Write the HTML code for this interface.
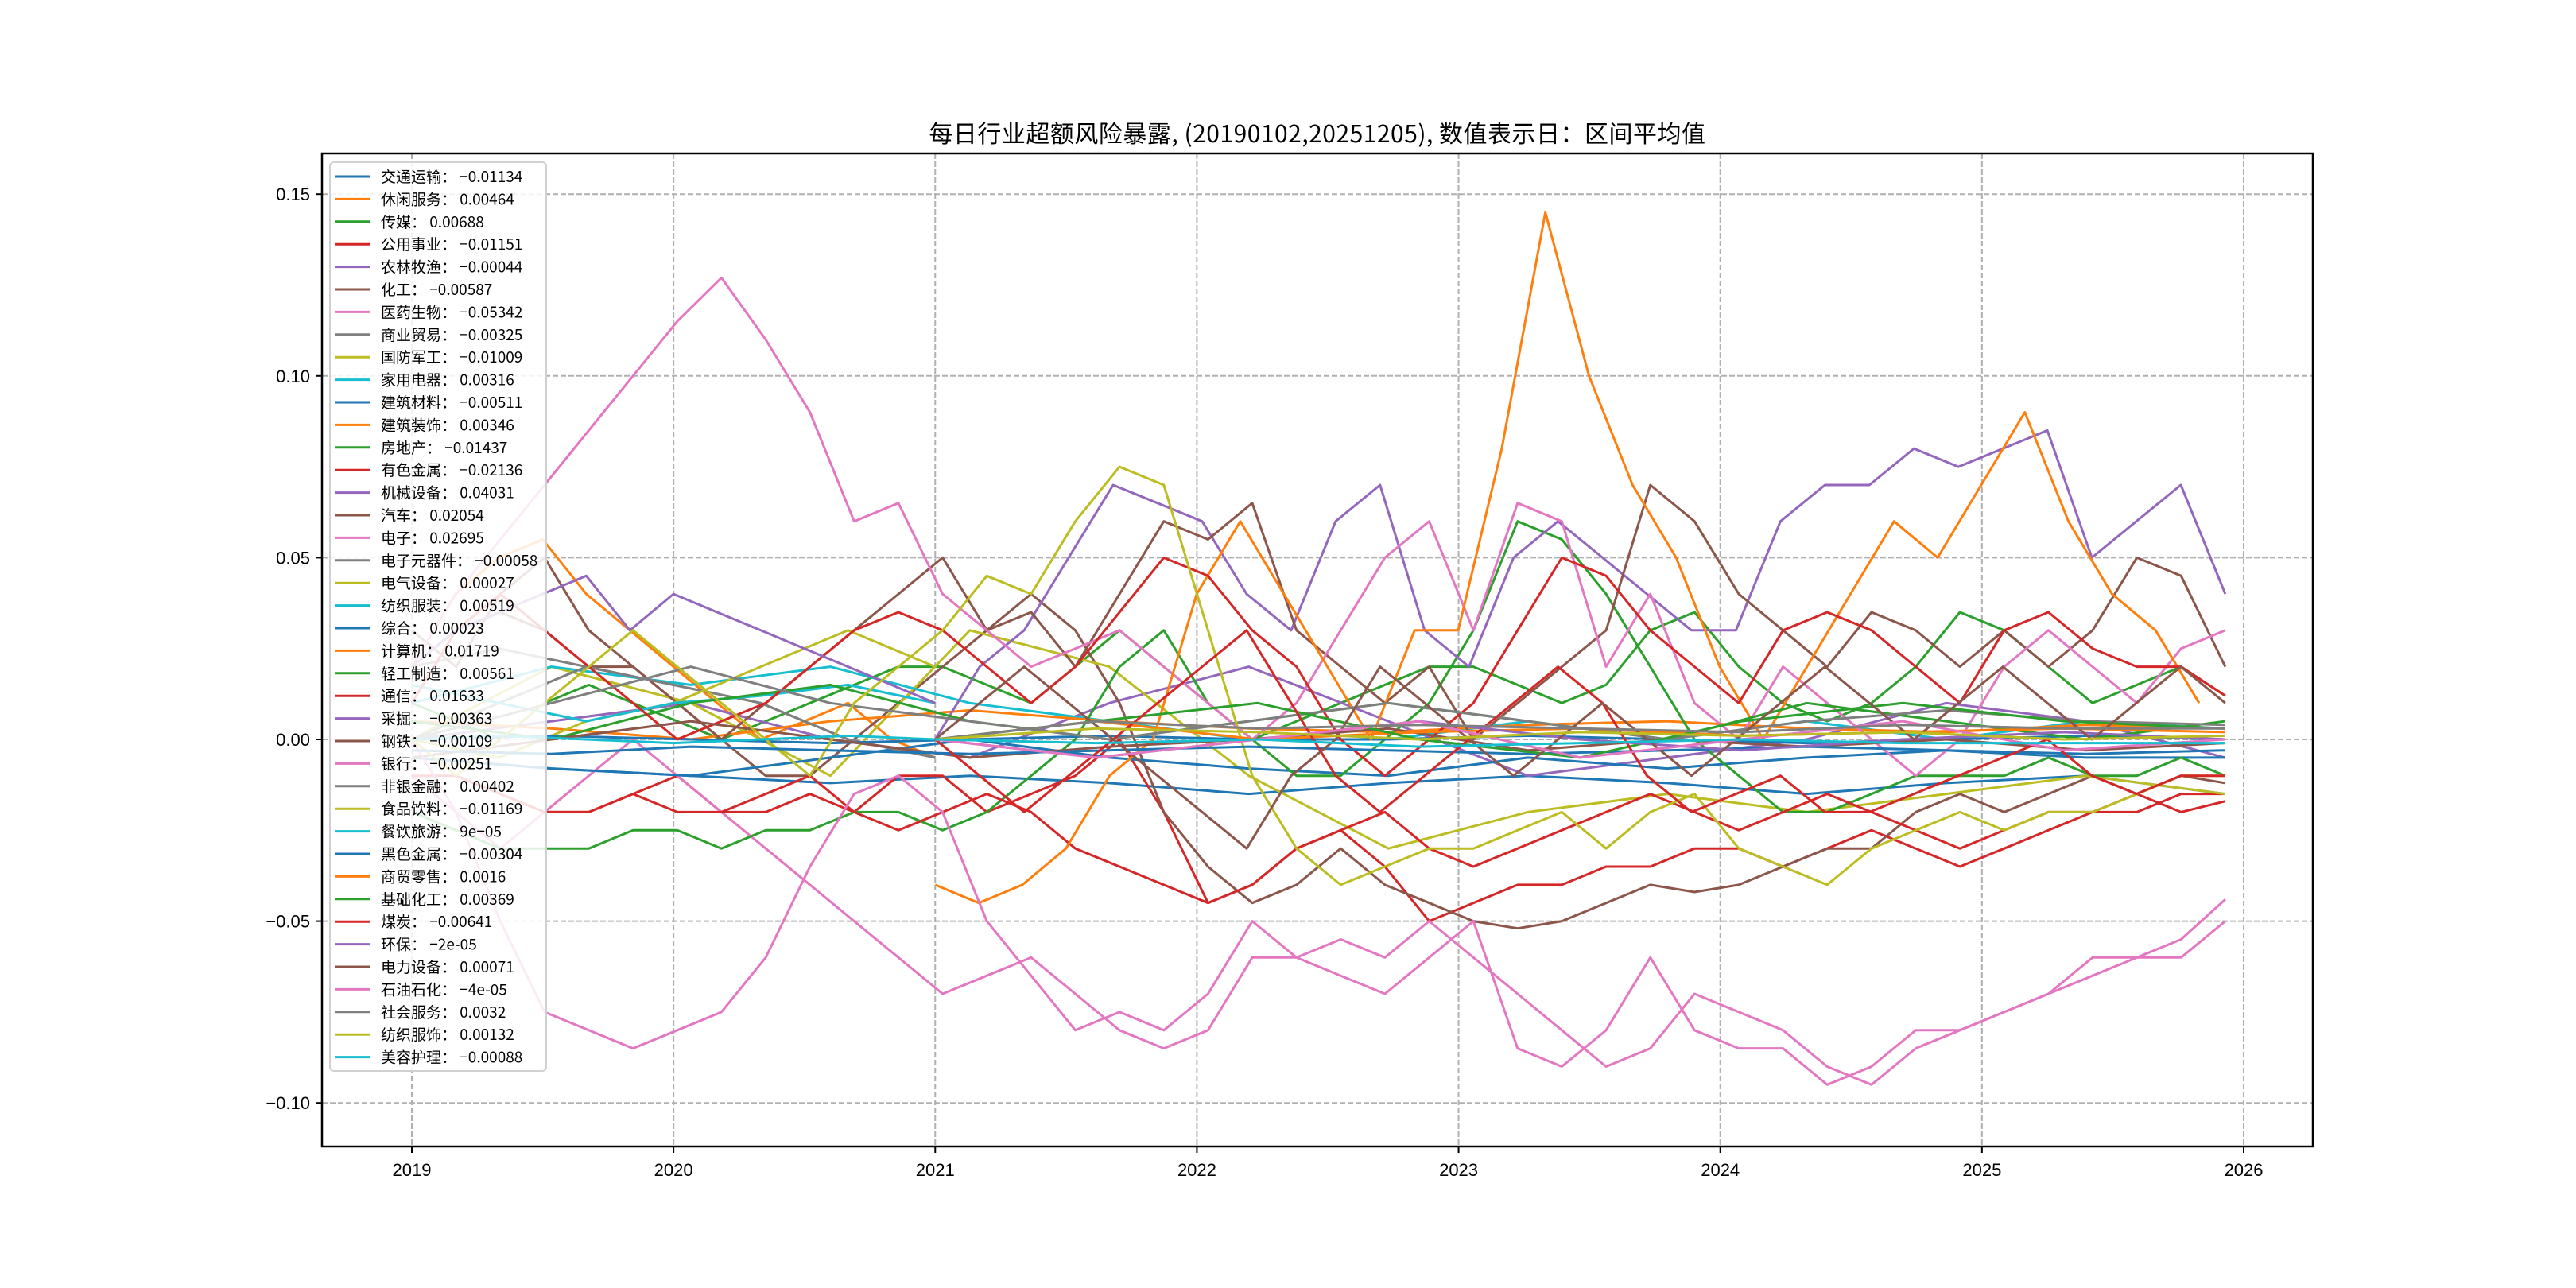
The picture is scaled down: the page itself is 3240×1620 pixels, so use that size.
<!DOCTYPE html>
<html><head><meta charset="utf-8">
<style>
html,body{margin:0;padding:0;background:#fff;}
svg{display:block;font-family:"Liberation Sans","Noto Sans CJK SC",sans-serif;}
</style></head>
<body>
<svg id="chart" width="3240" height="1620" viewBox="0 0 3240 1620" xmlns="http://www.w3.org/2000/svg">
<rect x="0" y="0" width="3240" height="1620" fill="#fff"/>
<text x="1657" y="179" font-size="30" text-anchor="middle" font-family="'Noto Sans CJK SC',sans-serif" letter-spacing="0.5">每日行业超额风险暴露, (20190102,20251205),  数值表示日：区间平均值</text>
<defs><clipPath id="plotclip"><rect x="405" y="193" width="2504" height="1249"/></clipPath></defs>
<g id="grid"></g>
<g id="series" clip-path="url(#plotclip)"></g>
<rect x="405" y="193" width="2504" height="1249" fill="none" stroke="#000" stroke-width="2.5"/>
<g id="axes"></g>
<g id="legend"></g>
</svg>
<script>
const seriesNames=["交通运输","休闲服务","传媒","公用事业","农林牧渔","化工","医药生物","商业贸易","国防军工","家用电器","建筑材料","建筑装饰","房地产","有色金属","机械设备","汽车","电子","电子元器件","电气设备","纺织服装","综合","计算机","轻工制造","通信","采掘","钢铁","银行","非银金融","食品饮料","餐饮旅游","黑色金属","商贸零售","基础化工","煤炭","环保","电力设备","石油石化","社会服务","纺织服饰","美容护理"];
const seriesMeans=["-0.01134","0.00464","0.00688","-0.01151","-0.00044","-0.00587","-0.05342","-0.00325","-0.01009","0.00316","-0.00511","0.00346","-0.01437","-0.02136","0.04031","0.02054","0.02695","-0.00058","0.00027","0.00519","0.00023","0.01719","0.00561","0.01633","-0.00363","-0.00109","-0.00251","0.00402","-0.01169","9e-05","-0.00304","0.0016","0.00369","-0.00641","-2e-05","0.00071","-4e-05","0.0032","0.00132","-0.00088"];
const seriesStart=[2019.0,2019.0,2019.0,2019.0,2019.0,2019.0,2019.0,2019.0,2019.0,2019.0,2019.0,2019.0,2019.0,2019.0,2021.0,2019.0,2019.0,2019.0,2019.0,2019.0,2019.0,2021.0,2019.0,2019.0,2019.0,2019.0,2019.0,2019.0,2019.0,2019.0,2019.0,2021.0,2021.0,2021.0,2021.0,2021.0,2021.0,2021.0,2021.0,2021.0];
const seriesEnd=[2025.93,2021.0,2025.93,2025.93,2025.93,2025.93,2025.93,2021.0,2025.93,2025.93,2025.93,2025.93,2025.93,2025.93,2025.93,2025.93,2025.93,2021.0,2021.0,2021.0,2025.93,2025.83,2025.93,2025.93,2021.0,2025.93,2025.93,2025.93,2025.93,2021.0,2025.93,2025.93,2025.93,2025.93,2025.93,2025.93,2025.93,2025.93,2025.93,2025.93];
const v0=[-0.005,-0.008,-0.01,-0.012,-0.01,-0.012,-0.015,-0.012,-0.01,-0.012,-0.015,-0.012,-0.01,-0.015];
const v1=[0.02,0.04,0.05,0.055,0.04,0.03,0.02,0.01,0.0,0.005,0.01,0.0,-0.005];
const v2=[0.01,0.005,0.0,0.01,0.015,0.01,0.005,0.0,0.005,0.01,0.015,0.02,0.02,0.015,0.01,0.02,0.03,0.02,0.01,0.0,0.005,0.01,0.015,0.02,0.02,0.015,0.01,0.015,0.03,0.035,0.02,0.01,0.005,0.01,0.02,0.035,0.03,0.02,0.01,0.015,0.02,0.012];
const v3=[0.0,-0.01,-0.015,-0.02,-0.02,-0.015,-0.01,-0.02,-0.02,-0.015,-0.02,-0.01,-0.01,-0.02,-0.015,-0.01,0.0,-0.02,-0.045,-0.04,-0.03,-0.025,-0.035,-0.05,-0.045,-0.04,-0.04,-0.035,-0.035,-0.03,-0.03,-0.035,-0.03,-0.025,-0.03,-0.035,-0.03,-0.025,-0.02,-0.02,-0.015,-0.015];
const v4=[0.0,0.005,0.01,0.0,-0.005,0.01,0.02,0.005,-0.01,-0.005,0.0,0.01,0.005,-0.005];
const v5=[0.02,0.03,0.035,0.03,0.02,0.02,0.01,0.0,-0.01,-0.01,0.0,0.01,0.02,0.03,0.04,0.03,0.01,-0.02,-0.035,-0.045,-0.04,-0.03,-0.04,-0.045,-0.05,-0.052,-0.05,-0.045,-0.04,-0.042,-0.04,-0.035,-0.03,-0.03,-0.02,-0.015,-0.02,-0.015,-0.01,-0.015,-0.01,-0.012];
const v6=[-0.01,-0.02,-0.03,-0.02,-0.01,0.0,-0.01,-0.02,-0.03,-0.04,-0.05,-0.06,-0.07,-0.065,-0.06,-0.07,-0.08,-0.085,-0.08,-0.06,-0.06,-0.055,-0.06,-0.05,-0.06,-0.07,-0.08,-0.09,-0.085,-0.07,-0.075,-0.08,-0.09,-0.095,-0.085,-0.08,-0.075,-0.07,-0.065,-0.06,-0.06,-0.05];
const v7=[0.02,0.025,0.02,0.015,0.01,0.0,-0.005];
const v8=[0.0,0.02,0.01,-0.01,0.03,0.02,-0.01,-0.03,-0.02,-0.015,-0.02,-0.015,-0.01,-0.015];
const v9=[0.01,0.02,0.015,0.02,0.01,0.005,0.0,0.0,0.005,0.0,0.005,0.0,0.005,0.003];
const v10=[-0.005,-0.008,-0.01,-0.005,0.0,-0.005,-0.008,-0.01,-0.005,-0.008,-0.005,-0.003,-0.005,-0.005];
const v11=[0.005,0.003,0.0,0.005,0.008,0.005,0.003,0.002,0.004,0.005,0.003,0.002,0.004,0.003];
const v12=[-0.02,-0.025,-0.03,-0.03,-0.03,-0.025,-0.025,-0.03,-0.025,-0.025,-0.02,-0.02,-0.025,-0.02,-0.01,0.0,0.02,0.03,0.01,0.0,-0.01,-0.01,0.0,0.01,0.03,0.06,0.055,0.04,0.02,0.0,-0.01,-0.02,-0.02,-0.015,-0.01,-0.01,-0.01,-0.005,-0.01,-0.01,-0.005,-0.01];
const v13=[-0.01,-0.01,-0.015,-0.02,-0.02,-0.015,-0.02,-0.02,-0.015,-0.01,-0.02,-0.025,-0.02,-0.015,-0.02,-0.03,-0.035,-0.04,-0.045,-0.04,-0.03,-0.025,-0.02,-0.03,-0.035,-0.03,-0.025,-0.02,-0.015,-0.02,-0.025,-0.02,-0.015,-0.02,-0.025,-0.03,-0.025,-0.02,-0.02,-0.015,-0.02,-0.017];
const v14=[0.0,0.02,0.03,0.05,0.07,0.065,0.06,0.04,0.03,0.06,0.07,0.03,0.02,0.05,0.06,0.05,0.04,0.03,0.03,0.06,0.07,0.07,0.08,0.075,0.08,0.085,0.05,0.06,0.07,0.04];
const v15=[0.03,0.02,0.04,0.05,0.03,0.02,0.01,0.0,0.01,0.02,0.03,0.04,0.05,0.03,0.035,0.02,0.04,0.06,0.055,0.065,0.03,0.02,0.01,0.02,0.0,0.01,0.02,0.03,0.07,0.06,0.04,0.03,0.02,0.035,0.03,0.02,0.03,0.02,0.03,0.05,0.045,0.02];
const v16=[0.02,0.04,0.055,0.07,0.085,0.1,0.115,0.127,0.11,0.09,0.06,0.065,0.04,0.03,0.02,0.025,0.03,0.02,0.01,0.0,0.01,0.03,0.05,0.06,0.03,0.065,0.06,0.02,0.04,0.01,0.0,0.02,0.01,0.0,-0.01,0.0,0.02,0.03,0.02,0.01,0.025,0.03];
const v17=[0.0,0.01,0.02,0.015,0.01,0.0,-0.005];
const v18=[0.0,-0.005,0.005,0.01,0.02,0.03,0.02];
const v19=[0.015,0.01,0.005,0.01,0.012,0.015,0.01];
const v20=[0.0,0.001,0.0,-0.001,0.0,0.001,0.0,0.0,0.001,0.0,-0.001,0.0,0.001,0.0];
const v21=[-0.04,-0.045,-0.04,-0.03,-0.01,0.0,0.04,0.06,0.04,0.02,0.0,0.03,0.03,0.08,0.145,0.10,0.07,0.05,0.02,0.0,0.02,0.04,0.06,0.05,0.07,0.09,0.06,0.04,0.03,0.01];
const v22=[0.005,0.0,0.01,0.015,0.005,0.0,0.005,0.01,0.005,0.0,0.01,0.005,0.0,0.005];
const v23=[0.01,0.03,0.04,0.03,0.02,0.01,0.0,0.005,0.01,0.02,0.03,0.035,0.03,0.02,0.01,0.02,0.035,0.05,0.045,0.03,0.02,0.0,-0.01,0.0,0.01,0.03,0.05,0.045,0.03,0.02,0.01,0.03,0.035,0.03,0.02,0.01,0.03,0.035,0.025,0.02,0.02,0.012];
const v24=[0.02,0.03,0.035,0.04,0.045,0.03,0.04,0.035,0.03,0.025,0.02,0.015,0.01];
const v25=[-0.005,0.0,0.005,0.0,-0.005,-0.002,0.0,0.003,-0.003,0.0,-0.002,0.0,-0.003,-0.001];
const v26=[0.0,-0.02,-0.05,-0.075,-0.08,-0.085,-0.08,-0.075,-0.06,-0.035,-0.015,-0.01,-0.02,-0.05,-0.065,-0.08,-0.075,-0.08,-0.07,-0.05,-0.06,-0.065,-0.07,-0.06,-0.05,-0.085,-0.09,-0.08,-0.06,-0.08,-0.085,-0.085,-0.095,-0.09,-0.08,-0.08,-0.075,-0.07,-0.06,-0.06,-0.055,-0.044];
const v27=[0.0,0.01,0.02,0.01,0.005,0.0,0.005,0.01,0.005,0.0,0.005,0.008,0.005,0.004];
const v28=[0.0,-0.01,0.0,0.01,0.02,0.03,0.02,0.01,0.0,-0.01,0.01,0.02,0.03,0.045,0.04,0.06,0.075,0.07,0.03,-0.01,-0.03,-0.04,-0.035,-0.03,-0.03,-0.025,-0.02,-0.03,-0.02,-0.015,-0.03,-0.035,-0.04,-0.03,-0.025,-0.02,-0.025,-0.02,-0.02,-0.015,-0.01,-0.01];
const v29=[0.0,0.001,0.0,-0.001,0.0,0.001,0.0];
const v30=[-0.003,-0.004,-0.002,-0.003,-0.004,-0.003,-0.002,-0.003,-0.004,-0.003,-0.002,-0.003,-0.004,-0.003];
const v31=[0.0,0.005,0.0,0.002,0.003,0.001,0.002,0.003,0.002];
const v32=[0.0,0.005,0.01,0.0,-0.005,0.005,0.01,0.005,0.003];
const v33=[0.0,-0.01,-0.02,-0.01,0.0,0.01,0.02,0.03,0.01,-0.01,-0.02,-0.01,0.0,0.01,0.02,0.01,-0.01,-0.02,-0.015,-0.01,-0.02,-0.02,-0.015,-0.01,-0.005,0.0,-0.01,-0.015,-0.01,-0.01];
const v34=[0.0,-0.005,0.0,0.005,0.0,-0.003,0.0,0.002,0.0];
const v35=[0.0,0.01,0.02,0.01,0.0,-0.01,-0.02,-0.03,-0.01,0.0,0.02,0.01,0.0,-0.01,0.0,0.01,0.0,-0.01,0.0,0.01,0.02,0.01,0.0,0.01,0.02,0.01,0.0,0.01,0.02,0.01];
const v36=[0.0,-0.005,0.0,0.005,-0.005,0.0,0.005,-0.003,0.0];
const v37=[0.0,0.005,0.003,0.004,0.003,0.002,0.004,0.003,0.003];
const v38=[0.0,0.003,0.002,0.0,0.002,0.001,0.002,0.0,0.001];
const v39=[0.0,-0.001,0.0,-0.002,-0.001,0.0,-0.001,-0.001,-0.001];
const seriesValues=[v0,v1,v2,v3,v4,v5,v6,v7,v8,v9,v10,v11,v12,v13,v14,v15,v16,v17,v18,v19,v20,v21,v22,v23,v24,v25,v26,v27,v28,v29,v30,v31,v32,v33,v34,v35,v36,v37,v38,v39];
const yTicks=[0.15,0.10,0.05,0.00,-0.05,-0.10];
const yTickLabels=["0.15","0.10","0.05","0.00","\u22120.05","\u22120.10"];
const xTicks=[2019,2020,2021,2022,2023,2024,2025,2026];
const xTickLabels=["2019","2020","2021","2022","2023","2024","2025","2026"];

const palette=["#1f77b4","#ff7f0e","#2ca02c","#d62728","#9467bd","#8c564b","#e377c2","#7f7f7f","#bcbd22","#17becf"];
const PL=405,PT=193,PR=2909,PB=1442;
function xScale(t){return 518+(t-2019)*329.14;}
function yScale(v){return 930-v*4572;}
const NS="http://www.w3.org/2000/svg";
function mk(tag,attrs,parent){const e=document.createElementNS(NS,tag);for(const k in attrs)e.setAttribute(k,attrs[k]);parent.appendChild(e);return e;}

const grid=document.getElementById('grid'),axes=document.getElementById('axes');
xTicks.forEach((t,i)=>{
  const x=xScale(t);
  const g=mk('line',{x1:x,x2:x,y1:PT,y2:PB,stroke:'#b0b0b0','stroke-width':2,'stroke-dasharray':'7,3'},grid);
  
  
  const tk=mk('line',{x1:x,x2:x,y1:PB,y2:PB+8,stroke:'#000','stroke-width':2},axes);
  
  
  const lb=mk('text',{x:x,y:PB+37,'font-size':22,'text-anchor':'middle'},axes);
  lb.textContent=xTickLabels[i];
  
  
});
yTicks.forEach((v,i)=>{
  const y=yScale(v);
  const g=mk('line',{x1:PL,x2:PR,y1:y,y2:y,stroke:'#b0b0b0','stroke-width':2,'stroke-dasharray':'7,3'},grid);
  
  
  const tk=mk('line',{x1:PL-8,x2:PL,y1:y,y2:y,stroke:'#000','stroke-width':2},axes);
  
  
  const lb=mk('text',{x:PL-15,y:y+8,'font-size':22,'text-anchor':'end'},axes);
  lb.textContent=yTickLabels[i];
  
  
});

const sg=document.getElementById('series');
seriesValues.forEach((vals,i)=>{
  const s=seriesStart[i],e=seriesEnd[i],n=vals.length;
  const pts=vals.map((v,j)=>xScale(s+(e-s)*j/(n-1)).toFixed(1)+','+yScale(v).toFixed(1)).join(' ');
  const pl=mk('polyline',{points:pts,fill:'none',stroke:palette[i%10],'stroke-width':3,'stroke-linejoin':'round'},sg);
  
  
});

const lg=document.getElementById('legend');
const box=mk('rect',{x:415,y:204,width:272,height:1143,rx:5,fill:'#fff','fill-opacity':0.85,stroke:'#d0d0d0','stroke-width':2},lg);


seriesNames.forEach((nm,i)=>{
  const y=222+i*28.4;
  const ln=mk('line',{x1:421,x2:465,y1:y,y2:y,stroke:palette[i%10],'stroke-width':3},lg);
  
  
  const tx=mk('text',{x:479,y:y+7,'font-size':19,'font-family':"'Noto Sans CJK SC',sans-serif"},lg);
  tx.textContent=nm+'： '+seriesMeans[i].replace('-','\u2212');
  
  
});
</script>
</body></html>
